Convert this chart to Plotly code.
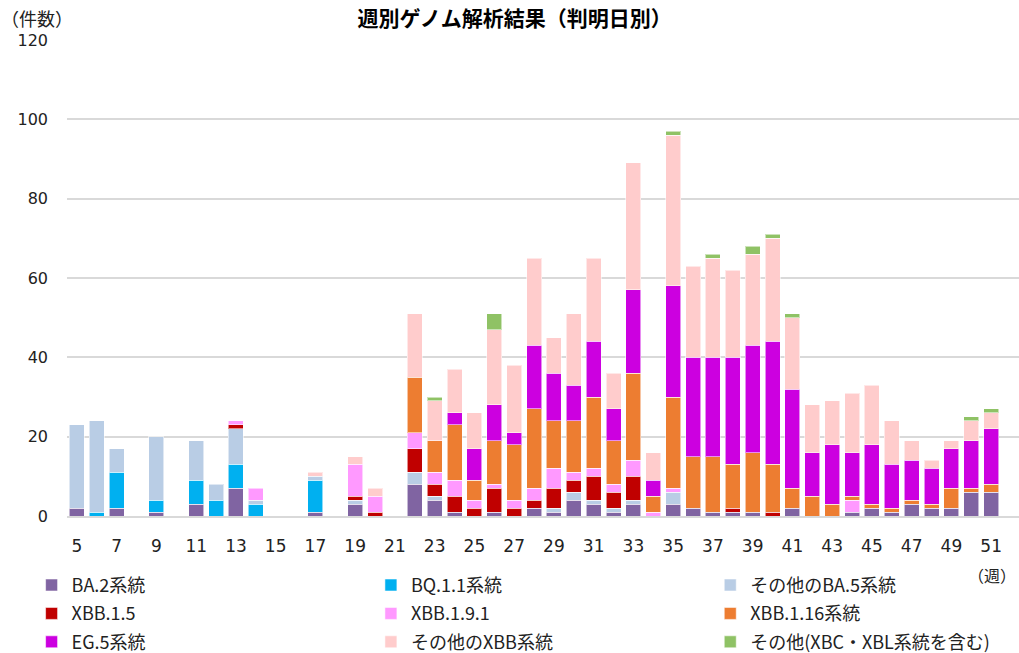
import plotly.graph_objects as go

# 週 (week numbers 5–52)
weeks = list(range(5, 53))

# 系統別の件数 (weekly counts per lineage), weeks 5..52
ba2 = [2, 0, 2, 0, 1, 0, 3, 0, 7, 0, 0, 0, 1, 0, 3, 0, 0, 8, 4, 1, 0, 1, 0, 2,
       1, 4, 3, 1, 3, 0, 3, 2, 1, 1, 1, 0, 2, 0, 0, 1, 2, 1, 3, 2, 2, 6, 6, 0]
bq11 = [0, 1, 9, 0, 3, 0, 6, 4, 6, 3, 0, 0, 8, 0, 0, 0, 0, 0, 0, 0, 0, 0, 0, 0,
        0, 0, 0, 0, 0, 0, 0, 0, 0, 0, 0, 0, 0, 0, 0, 0, 0, 0, 0, 0, 0, 0, 0, 0]
ba5_other = [21, 23, 6, 0, 16, 0, 10, 4, 9, 1, 0, 0, 1, 0, 1, 0, 0, 3, 1, 0, 0, 0, 0, 0,
             1, 2, 1, 1, 1, 0, 3, 0, 0, 0, 0, 0, 0, 0, 0, 0, 0, 0, 0, 0, 0, 0, 0, 0]
xbb15 = [0, 0, 0, 0, 0, 0, 0, 0, 1, 0, 0, 0, 0, 0, 1, 1, 0, 6, 3, 4, 2, 6, 2, 2,
         5, 3, 6, 4, 6, 0, 0, 0, 0, 1, 0, 1, 0, 0, 0, 0, 0, 0, 0, 0, 0, 0, 0, 0]
xbb191 = [0, 0, 0, 0, 0, 0, 0, 0, 1, 3, 0, 0, 0, 0, 8, 4, 0, 4, 3, 4, 2, 1, 2, 3,
          5, 2, 2, 2, 4, 1, 1, 0, 0, 0, 0, 0, 0, 0, 0, 3, 0, 0, 0, 0, 0, 0, 0, 0]
xbb116 = [0, 0, 0, 0, 0, 0, 0, 0, 0, 0, 0, 0, 0, 0, 0, 0, 0, 14, 8, 14, 5, 11, 14, 20,
          12, 13, 18, 11, 22, 4, 23, 13, 14, 11, 15, 12, 5, 5, 3, 1, 1, 1, 1, 1, 5, 1, 2, 0]
eg5 = [0, 0, 0, 0, 0, 0, 0, 0, 0, 0, 0, 0, 0, 0, 0, 0, 0, 0, 0, 3, 8, 9, 3, 16,
       12, 9, 14, 8, 21, 4, 28, 25, 25, 27, 27, 31, 25, 11, 15, 11, 15, 11, 10, 9, 10, 12, 14, 0]
xbb_other = [0, 0, 0, 0, 0, 0, 0, 0, 0, 0, 0, 0, 1, 0, 2, 2, 0, 16, 10, 11, 9, 19, 17, 22,
             9, 18, 21, 9, 32, 7, 38, 23, 25, 22, 23, 26, 18, 12, 11, 15, 15, 11, 5, 2, 2, 5, 4, 0]
others = [0, 0, 0, 0, 0, 0, 0, 0, 0, 0, 0, 0, 0, 0, 0, 0, 0, 0, 1, 0, 0, 4, 0, 0,
          0, 0, 0, 0, 0, 0, 1, 0, 1, 0, 2, 1, 1, 0, 0, 0, 0, 0, 0, 0, 0, 1, 1, 0]

series_names = ["BA.2系統", "BQ.1.1系統", "その他のBA.5系統",
                "XBB.1.5", "XBB.1.9.1", "XBB.1.16系統",
                "EG.5系統", "その他のXBB系統", "その他(XBC・XBL系統を含む)"]
series_values = [ba2, bq11, ba5_other, xbb15, xbb191, xbb116, eg5, xbb_other, others]
series_colors = ["#8064A2", "#00B0F0", "#B9CDE5",
                 "#C00000", "#FF99FF", "#ED7D31",
                 "#CC00E0", "#FFCCCC", "#8FC265"]

x_ticks = list(range(5, 53, 2))

jp_font = "Noto Sans CJK JP"
num_font = "DejaVu Sans"
text_color = "#222222"

# legend key: three columns, filled row by row
legend_ids = ["legend", "legend2", "legend3"]

fig = go.Figure()
for i, (name, vals, color) in enumerate(zip(series_names, series_values, series_colors)):
    fig.add_trace(go.Bar(
        x=weeks,
        y=[v if v else None for v in vals],
        name=name,
        legend=legend_ids[i % 3],
        legendgroup=f"g{i}",
        marker=dict(color=color, line=dict(color="rgba(255,255,255,0.55)", width=1)),
    ))

legend_common = dict(
    orientation="v",
    xref="container", yref="container",
    xanchor="left",
    y=0.132, yanchor="top",
    traceorder="grouped",
    tracegroupgap=2,
    bgcolor="rgba(0,0,0,0)",
    font=dict(family=jp_font, size=18, color=text_color),
    itemclick=False, itemdoubleclick=False,
)

fig.update_layout(
    barmode="stack",
    bargap=0.245,
    width=1019,
    height=653,
    margin=dict(l=67, r=0, t=40, b=137, autoexpand=False),
    paper_bgcolor="white",
    plot_bgcolor="white",
    title=dict(
        text="<b>週別ゲノム解析結果（判明日別）</b>",
        font=dict(family=jp_font, size=21, color="#000000"),
        x=0.505, xref="container", xanchor="center",
        y=0.972, yref="container", yanchor="middle",
    ),
    xaxis=dict(
        range=[4.5, 52.4],
        tickmode="array",
        tickvals=x_ticks,
        ticktext=[str(t) for t in x_ticks],
        showgrid=False,
        showline=True,
        linecolor="#D9D9D9",
        linewidth=1.5,
        ticks="",
        ticklabelstandoff=14,
        tickfont=dict(family=num_font, size=17, color=text_color),
        fixedrange=True,
    ),
    yaxis=dict(
        range=[0, 120],
        tickmode="array",
        tickvals=[0, 20, 40, 60, 80, 100, 120],
        showgrid=True,
        gridcolor="#D9D9D9",
        gridwidth=1.5,
        zeroline=False,
        ticks="",
        ticklabelstandoff=18,
        tickfont=dict(family=num_font, size=16, color=text_color),
        fixedrange=True,
    ),
    legend=dict(legend_common, x=0.031),
    legend2=dict(legend_common, x=0.364),
    legend3=dict(legend_common, x=0.697),
    annotations=[
        dict(text="（件数）", xref="paper", yref="paper", x=-0.031, y=1.046,
             xanchor="center", yanchor="middle", showarrow=False,
             font=dict(family=jp_font, size=18, color=text_color)),
        dict(text="（週）", xref="paper", yref="paper", x=0.9716, y=-0.124,
             xanchor="center", yanchor="middle", showarrow=False,
             font=dict(family=jp_font, size=16, color=text_color)),
    ],
    showlegend=True,
)

fig.write_html("out.html")
